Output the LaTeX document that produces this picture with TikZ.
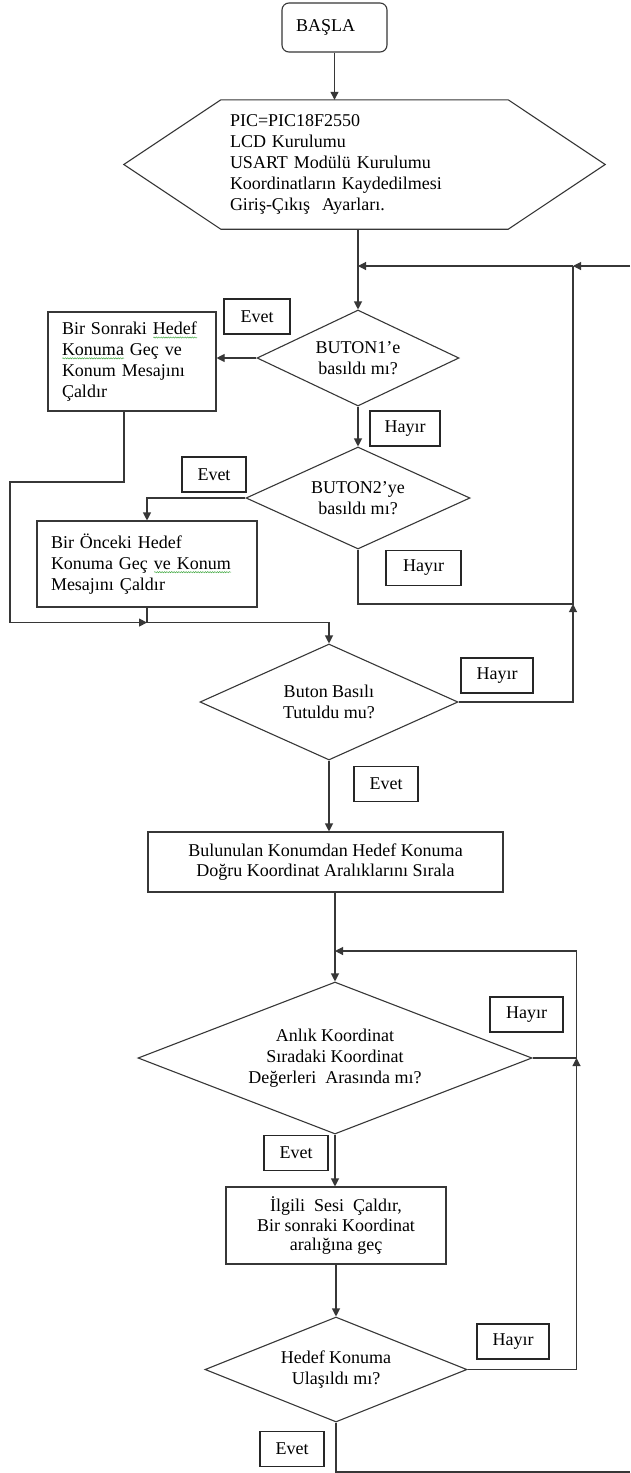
\documentclass[tikz,border=0pt]{standalone}
\usepackage{fontspec}
\setmainfont{Liberation Serif}
\usetikzlibrary{shapes.geometric,arrows.meta,decorations.pathmorphing}
\definecolor{lncol}{RGB}{55,55,55}
\definecolor{wavycol}{RGB}{70,170,70}
\newcommand\wavy[1]{\setbox0=\hbox{#1}\leavevmode\rlap{\tikz[baseline=0pt]\draw[draw=wavycol,line width=0.5pt,sharp corners,decorate,decoration={snake,amplitude=0.6pt,segment length=2.4pt}] (0pt,-2.8pt) -- (\wd0,-2.8pt);}\box0\relax}
\begin{document}
\begin{tikzpicture}[x=1pt,y=-1pt,font=\fontsize{18}{20.8}\selectfont,
  ln/.style={draw=lncol,line width=1.1pt},
  arr/.style={draw=lncol,line width=1.1pt,-{Triangle[length=8pt,width=8pt]}},
  box/.style={draw=lncol,line width=1.1pt,rectangle,inner sep=0pt},
  dec/.style={draw=lncol,line width=1.1pt,diamond,inner sep=0pt,align=center},
  lbl/.style={draw=black!85,line width=1.1pt,rectangle,inner sep=0pt,minimum height=35pt}]
\fill[white] (0,0) rectangle (630,1473);
\useasboundingbox (0,0) rectangle (630,1473);

% shapes
\node[box,rounded corners=7pt,minimum width=105pt,minimum height=49pt,text width=77pt,inner xsep=14pt,align=left] (start) at (334.5,27.5) {BAŞLA};
\node[rectangle,inner xsep=106pt,inner ysep=0pt,text width=269pt,align=left,minimum height=129pt] (init) at (364.5,164.5)
  {PIC=PIC18F2550\\LCD Kurulumu\\USART Modülü Kurulumu\\Koordinatların Kaydedilmesi\\Giriş-Çıkış~ Ayarları.};
\draw[ln] (init.west) -- ([xshift=97pt]init.north west) -- ([xshift=-97pt]init.north east) -- (init.east)
  -- ([xshift=-97pt]init.south east) -- ([xshift=97pt]init.south west) -- cycle;

\node[dec,aspect=2.1,minimum width=202pt,minimum height=96pt] (d1) at (358,358) {BUTON1’e\\basıldı mı?};
\node[box,minimum width=168pt,minimum height=99pt,text width=140pt,inner xsep=14pt,align=left] (b1) at (132,361.5)
  {Bir Sonraki \wavy{Hedef}\\\wavy{Konuma} Geç ve\\Konum Mesajını\\Çaldır};
\node[dec,aspect=2.2,minimum width=224pt,minimum height=102pt] (d2) at (358,498) {BUTON2’ye\\basıldı mı?};
\node[box,minimum width=220pt,minimum height=86pt,text width=192pt,inner xsep=14pt,align=left] (b2) at (147,564)
  {Bir Önceki Hedef\\Konuma Geç \wavy{ve Konum}\\Mesajını Çaldır};
\node[dec,aspect=2.22,minimum width=258pt,minimum height=116pt] (d3) at (329,702) {Buton Basılı\\Tutuldu mu?};
\node[box,minimum width=355pt,minimum height=60pt,align=center] (b3) at (325.5,862)
  {Bulunulan Konumdan Hedef Konuma\\Doğru Koordinat Aralıklarını Sırala};
\node[dec,aspect=2.6,minimum width=394pt,minimum height=152pt,font=\fontsize{18}{21}\selectfont] (d4) at (335,1058)
  {Anlık Koordinat\\Sıradaki Koordinat\\Değerleri~ Arasında mı?};
\node[box,minimum width=220pt,minimum height=77pt,align=center,font=\fontsize{18}{19.5}\selectfont] (b4) at (336,1225.5)
  {İlgili~ Sesi~ Çaldır,\\Bir sonraki Koordinat\\aralığına geç};
\node[dec,aspect=2.5,minimum width=262pt,minimum height=105pt] (d5) at (336,1369.5) {Hedef Konuma\\Ulaşıldı mı?};

% labels
\node[lbl,minimum width=66pt] (e1) at (257,316.5) {Evet};
\node[lbl,minimum width=70pt] (h1) at (405,428.5) {Hayır};
\node[lbl,minimum width=64pt] (e2) at (214,474.5) {Evet};
\node[lbl,minimum width=75pt] (h2) at (423.5,568) {Hayır};
\node[lbl,minimum width=72pt] (h3) at (497,675.5) {Hayır};
\node[lbl,minimum width=64pt] (e3) at (386,784) {Evet};
\node[lbl,minimum width=73pt] (h4) at (526.5,1014.5) {Hayır};
\node[lbl,minimum width=64pt] (e4) at (296,1153) {Evet};
\node[lbl,minimum width=72pt] (h5) at (513,1341.5) {Hayır};
\node[lbl,minimum width=64pt] (e5) at (292,1449) {Evet};

% coordinates
\coordinate (entry) at (630,266);
\coordinate (loopA) at (573,266);
\coordinate (loopB) at (573,604);
\coordinate (loopC) at (576.5,951);
\coordinate (loopD) at (576.5,1058);
\coordinate (exitP) at (630,1472);
\coordinate (leftT) at (10,482);
\path (b2.south) ++(0,15) coordinate (mrg);

% connectors
\draw[arr] (start.south) -- (start.south |- init.north);
\draw[arr] (d1.north |- init.south) -- (d1.north);
\draw[arr] (entry) -- (loopA);
\draw[arr] (loopA) -- (loopA -| d1.north);
\draw[arr] (d1.west) -- (d1.west -| b1.east);
\draw[arr] (d1.south) -- (d2.north);
\draw[arr] (d2.west) -| (b2.north);
\draw[ln] (d2.south) |- (loopB) -- (loopA);
\draw[arr] (d3.east) -| (loopB);
\draw[arr] ([xshift=-8pt]b1.south) |- (leftT) |- (mrg);
\draw[arr] (b2.south) -- (mrg) -| (d3.north);
\draw[arr] (d3.south) -- (d3.south |- b3.north);
\draw[arr] (b3.south -| d4.north) -- (d4.north);
\draw[arr] (loopC) -- (loopC -| d4.north);
\draw[ln] (d4.east) -- (loopD) -- (loopC);
\draw[arr] (d5.east) -| (loopD);
\draw[arr] (d4.south) -- (d4.south |- b4.north);
\draw[arr] (b4.south -| d5.north) -- (d5.north);
\draw[ln] (d5.south) |- (exitP);
\end{tikzpicture}
\end{document}
